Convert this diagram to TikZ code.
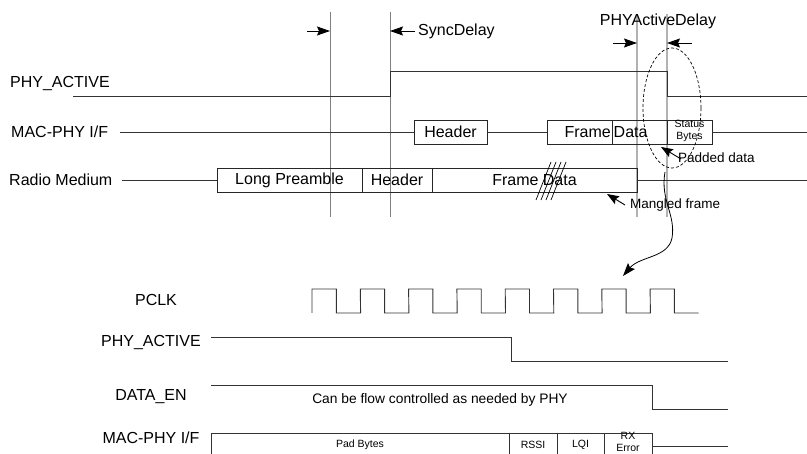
\documentclass[tikz,border=0pt]{standalone}
\usepackage{fontspec}
\setmainfont{Liberation Sans}
\usetikzlibrary{arrows.meta,shapes.geometric}
\begin{document}
\begin{tikzpicture}[x=1pt,y=-1pt,
  sig/.style={draw=black!80,line width=0.9pt},
  guide/.style={draw=black!50,line width=0.8pt},
  guideb/.style={draw=black!30,line width=1.6pt},
  lbl/.style={font=\fontsize{16}{19}\selectfont,inner sep=0pt},
  mid/.style={font=\fontsize{13.5}{16}\selectfont,inner sep=0pt},
  small/.style={font=\fontsize{10.5}{13}\selectfont,inner sep=0pt,align=center},
  box/.style={draw=black!85,line width=0.9pt,inner sep=0pt,font=\fontsize{16}{19}\selectfont,minimum height=24pt},
  arr/.style={draw=black,line width=0.9pt,-{Stealth[length=13pt,width=9pt,inset=2pt]}},
  ]
\useasboundingbox (0,0) rectangle (807,454);
\clip (0,0) rectangle (807,454);

% guide lines
\draw[guide] (330,12) -- (330,217);
\draw[guide] (390,12) -- (390,217);
\draw[guideb] (637,14) -- (637,217);
\draw[guideb] (667,14) -- (667,217);

% top arrows
\coordinate (g1) at (330,31);
\coordinate (g2) at (390,31);
\coordinate (g3) at (637,43);
\coordinate (g4) at (667,43);
\draw[arr] (307,31) -- (g1);
\draw[arr] (415,31) -- (g2);
\node[lbl,anchor=west] (sync) at (418,31) {SyncDelay};
\draw[arr] (613,43) -- (g3);
\draw[arr] (692,43) -- (g4);
\node[lbl] (pad) at (658,21) {PHYActiveDelay};

% top labels
\node[lbl,anchor=west] (l1) at (10,84) {PHY\_ACTIVE};
\node[lbl,anchor=west] (l2) at (11,132) {MAC-PHY I/F};
\node[lbl,anchor=west] (l3) at (9,180) {Radio Medium};

% PHY_ACTIVE top
\draw[sig] (73,96) -- (390,96) -- (390,71) -- (667,71) -- (667,96) -- (807,96);

% MAC-PHY I/F top
\node[box,minimum width=73pt] (hdr) at (450.5,132) {Header};
\node[box,minimum width=65pt] (frm) at (579.5,132) {};
\node[box,minimum width=55pt] (dat) at (639.5,132) {};
\node[box,minimum width=45pt] (sts) at (689.5,132) {};
\node[lbl,anchor=east] (frmt) at (611,132) {Frame};
\node[lbl,anchor=west] (datt) at (613.5,132) {Data};
\node[small,font=\fontsize{10.5}{12.5}\selectfont] (stst) at (689.5,131) {Status\\Bytes};
\coordinate (m0) at (120,132);
\coordinate (m9) at (807,132);
\draw[sig] (m0) -- (hdr.west);
\draw[sig] (hdr.east) -- (frm.west);
\draw[sig] (sts.east) -- (m9);

% Radio medium
\node[box,minimum width=145pt] (lp) at (289.5,180) {Long Preamble};
\node[box,minimum width=70pt] (rh) at (397,180) {Header};
\node[box,minimum width=205pt] (fd) at (534.5,180) {Frame Data};
\coordinate (r0) at (122,180);
\coordinate (r9) at (807,180);
\draw[sig] (r0) -- (lp.west);
\draw[sig] (fd.east) -- (r9);

% hatch
\foreach \i in {0,1,2,3}
  \draw[black,line width=0.7pt] (536+5*\i,200) -- (551+5*\i,162);

% dashed ellipse
\node[draw=black,dash pattern=on 3pt off 2pt,line width=0.7pt,ellipse,minimum width=58pt,minimum height=120pt,inner sep=0pt] (ell) at (672,108) {};

% Padded data
\node[mid,anchor=west] (padded) at (678,158) {Padded data};
\draw[arr,-{Stealth[length=12pt,width=9pt,inset=2pt]}] (681,159) -- (661,147);

% Mangled frame
\node[mid,anchor=west] (mangled) at (630,205) {Mangled frame};
\draw[arr,-{Stealth[length=12pt,width=9pt,inset=2pt]}] (625,205) -- (607,194);

% curved arrow
\coordinate (c0) at (665,172);
\coordinate (c1) at (623,276);
\draw[black,line width=0.8pt,-{Stealth[length=13pt,width=9pt,inset=2pt]}]
  (c0) .. controls (660,200) and (676,215) .. (672,238)
       .. controls (668,258) and (640,256) .. (c1);

% bottom labels
\node[lbl] (b1) at (156,300) {PCLK};
\node[lbl] (b2) at (151,343) {PHY\_ACTIVE};
\node[lbl] (b3) at (151,397) {DATA\_EN};
\node[lbl] (b4) at (151,438) {MAC-PHY I/F};

% PCLK
\draw[sig] (312,313)
  \foreach \i in {0,...,7} { -- ({312+48.3*\i},289) -- ({336.3+48.3*\i},289) -- ({336.3+48.3*\i},313) -- ({360.6+48.3*\i},313) };

% PHY_ACTIVE bottom
\draw[sig] (211,337) -- (511,337) -- (511,361) -- (728,361);

% DATA_EN
\draw[sig] (211,385) -- (652,385) -- (652,409) -- (728,409);
\node[mid,font=\fontsize{13.8}{16}\selectfont] (flow) at (440,400) {Can be flow controlled as needed by PHY};

% MAC-PHY I/F bottom
\draw[sig] (211,470) -- (211,433) -- (652,433) -- (652,470);
\draw[sig] (509,433) -- (509,470);
\draw[sig] (557,433) -- (557,470);
\draw[sig] (604,433) -- (604,470);
\draw[sig] (652,446) -- (728,446);
\node[small] (padb) at (360,445) {Pad Bytes};
\node[small] (rssi) at (533,445) {RSSI};
\node[small] (lqi) at (580.5,445) {LQI};
\node[small] (rx) at (628,436) {RX};
\node[small] (err) at (628,447.5) {Error};
\end{tikzpicture}
\end{document}
